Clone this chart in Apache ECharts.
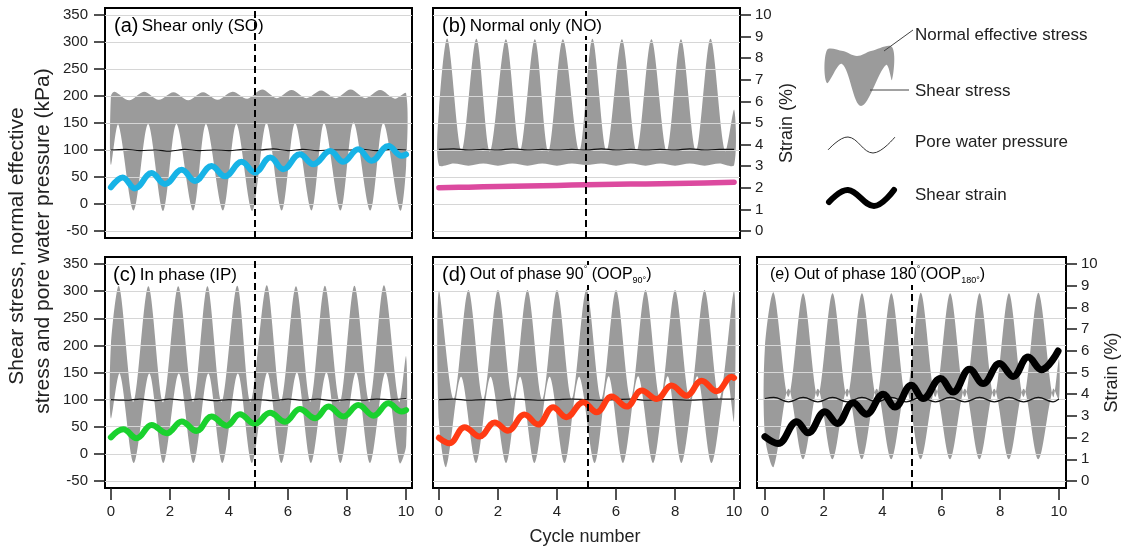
<!DOCTYPE html>
<html><head><meta charset="utf-8">
<script src="https://cdn.jsdelivr.net/npm/echarts@6/dist/echarts.min.js"></script>
<style>html,body{margin:0;padding:0;background:#fff}#c{width:1130px;height:552px}</style>
</head><body><div id="c"></div>
<script>
// ---------- tick labels ----------
const kpaTicks = [-50, 0, 50, 100, 150, 200, 250, 300, 350];
const strainTicks = [0, 1, 2, 3, 4, 5, 6, 7, 8, 9, 10];
const cycleTicks = [0, 2, 4, 6, 8, 10];
const halfSteps = [0, 0.5, 1, 1.5, 2, 2.5, 3, 3.5, 4, 4.5, 5, 5.5, 6, 6.5, 7, 7.5, 8, 8.5, 9, 9.5, 10];
const dashX = [4.88, 4.98, 4.88, 5.05, 5.0];

// ---------- (a) Shear only ----------
const normA_x = [0, 0.12, 0.62, 1.12, 1.62, 2.12, 2.62, 3.12, 3.62, 4.12, 4.62, 5.12, 5.62, 6.12, 6.62, 7.12, 7.62, 8.12, 8.62, 9.12, 9.62, 10];
const normA_y = [199, 208, 192, 208, 193, 207, 192, 207, 193, 208, 195, 212, 196, 211, 196, 210, 196, 212, 196, 211, 195, 205];
const shearA_x = [0, 0.25, 0.77, 1.26, 1.77, 2.22, 2.79, 3.22, 3.8, 4.25, 4.79, 5.27, 5.79, 6.24, 6.8, 7.22, 7.78, 8.22, 8.79, 9.23, 9.8, 10];
const shearA_y = [72, 147, -12, 148, -13, 148, -12, 148, -12, 148, -13, 150, -12, 150, -12, 150, -12, 151, -12, 150, -12, 70];
const poreA_y = [100, 101, 99, 100, 98, 101, 99, 100, 99, 101, 100, 102, 99, 101, 99, 100, 100, 101, 99, 101, 100];
const strainA_x = [0, 0.4, 0.81, 1.38, 1.83, 2.4, 2.85, 3.41, 3.86, 4.43, 4.88, 5.4, 5.84, 6.4, 6.86, 7.43, 7.87, 8.38, 8.83, 9.4, 9.85, 10];
const strainA_y = [2.02, 2.48, 1.97, 2.68, 2.17, 2.83, 2.32, 3.01, 2.53, 3.2, 2.71, 3.4, 2.86, 3.55, 3.09, 3.7, 3.2, 3.78, 3.25, 3.93, 3.48, 3.55];

// ---------- (b) Normal only ----------
const normB_x = [0, 0.29, 0.77, 1.27, 1.73, 2.27, 2.75, 3.25, 3.71, 4.2, 4.76, 5.2, 5.68, 6.2, 6.7, 7.2, 7.72, 8.2, 8.71, 9.2, 9.69, 10];
const normB_y = [172, 306, 98, 306, 97, 305, 98, 305, 97, 305, 98, 306, 98, 305, 98, 305, 98, 305, 98, 306, 98, 175];
const shearB_y = [72, 75, 71, 75, 71, 75, 71, 75, 71, 75, 72, 75, 71, 75, 71, 75, 71, 75, 71, 75, 72];
const poreB_y = [101, 102, 100, 101, 100, 102, 100, 101, 100, 101, 100, 102, 100, 101, 100, 101, 100, 102, 100, 101, 101];
const strainB_x = [0, 1, 2, 3, 4, 5, 6, 7, 8, 9, 10];
const strainB_y = [2.0, 2.03, 2.06, 2.08, 2.11, 2.14, 2.16, 2.18, 2.2, 2.22, 2.26];

// ---------- (c) In phase ----------
const normC_x = [0, 0.28, 0.76, 1.27, 1.77, 2.28, 2.79, 3.27, 3.75, 4.28, 4.73, 5.28, 5.76, 6.27, 6.76, 7.25, 7.76, 8.25, 8.76, 9.25, 9.76, 10];
const normC_y = [200, 309, 96, 309, 95, 309, 96, 309, 96, 310, 96, 311, 97, 309, 96, 310, 96, 310, 96, 311, 96, 180];
const shearC_x = [0, 0.3, 0.78, 1.3, 1.78, 2.3, 2.8, 3.3, 3.78, 4.3, 4.78, 5.3, 5.78, 6.3, 6.78, 7.3, 7.78, 8.3, 8.78, 9.3, 9.78, 10];
const shearC_y = [65, 148, -17, 148, -17, 148, -17, 148, -17, 148, -17, 150, -17, 150, -17, 150, -17, 150, -17, 150, -17, 15];
const poreC_y = [100, 99, 101, 98, 101, 99, 101, 98, 100, 99, 100, 98, 101, 99, 101, 98, 100, 99, 101, 100, 102];
const strainC_x = [0, 0.42, 0.87, 1.38, 1.89, 2.4, 2.9, 3.41, 3.92, 4.37, 4.88, 5.39, 5.9, 6.4, 6.92, 7.37, 7.88, 8.38, 8.9, 9.4, 9.85, 10];
const strainC_y = [2.01, 2.38, 1.97, 2.58, 2.2, 2.74, 2.3, 2.97, 2.55, 3.07, 2.63, 3.14, 2.73, 3.32, 2.89, 3.43, 2.97, 3.5, 3.01, 3.58, 3.2, 3.27];

// ---------- (d) Out of phase 90 ----------
const normD_y = [300, 101, 302, 100, 302, 101, 302, 100, 302, 101, 303, 100, 302, 101, 302, 100, 302, 101, 302, 100, 300];
const shearD_x = [0, 0.25, 0.75, 1.26, 1.75, 2.28, 2.75, 3.24, 3.75, 4.26, 4.75, 5.28, 5.75, 6.24, 6.75, 7.26, 7.75, 8.22, 8.75, 9.24, 9.75, 10];
const shearD_y = [60, -24, 142, -17, 142, -17, 142, -17, 142, -17, 142, -17, 143, -17, 143, -17, 143, -17, 143, -17, 142, 60];
const poreD_y = [100, 101, 99, 100, 99, 101, 100, 99, 100, 101, 100, 99, 100, 101, 99, 100, 100, 99, 100, 101, 101];
const strainD_x = [0, 0.36, 0.87, 1.38, 1.89, 2.34, 2.9, 3.36, 3.87, 4.32, 4.89, 5.34, 5.85, 6.36, 6.87, 7.38, 7.88, 8.39, 8.9, 9.41, 9.92, 10];
const strainD_y = [1.99, 1.74, 2.48, 2.05, 2.7, 2.32, 3.06, 2.6, 3.4, 2.94, 3.63, 3.17, 3.89, 3.43, 4.17, 3.78, 4.4, 3.93, 4.62, 4.13, 4.8, 4.75];

// ---------- (e) Out of phase 180 ----------
const normE_x = [0, 0.3, 0.8, 1.3, 1.8, 2.3, 2.8, 3.3, 3.8, 4.3, 4.8, 5.3, 5.8, 6.3, 6.8, 7.3, 7.8, 8.3, 8.8, 9.3, 9.8, 10];
const normE_y = [197, 297, 105, 296, 105, 296, 105, 296, 105, 296, 105, 297, 105, 296, 105, 296, 105, 296, 105, 297, 105, 175];
const shearE_y = [32, -24, 120, -10, 120, -10, 120, -10, 120, -10, 120, -10, 120, -10, 120, -10, 120, -10, 120, -10, 120, 100];
const poreE_y = [102, 104, 96, 104, 96, 104, 96, 104, 96, 104, 96, 104, 96, 104, 96, 104, 96, 104, 96, 104, 96, 101];
const strainE_x = [0, 0.45, 1.08, 1.47, 2.04, 2.46, 3.0, 3.45, 4.02, 4.42, 4.98, 5.38, 5.97, 6.4, 6.96, 7.42, 7.98, 8.44, 8.95, 9.4, 9.97];
const strainE_y = [2.04, 1.73, 2.73, 2.22, 3.19, 2.65, 3.6, 3.08, 4.0, 3.41, 4.41, 3.8, 4.72, 4.1, 5.15, 4.49, 5.41, 4.82, 5.71, 5.13, 5.99];

// ---------- layout ----------
const FONT = "'Liberation Sans', Arial, Helvetica, sans-serif";
const TXT = '#222';
const GRAY = '#9b9b9b';
const panels = [
  {g: {left: 105, top: 8, width: 307, height: 230}, xr: [-0.2, 10.2], nx: normA_x, ny: normA_y, sx: shearA_x, sy: shearA_y, px: halfSteps, py: poreA_y, ex: strainA_x, ey: strainA_y, col: '#17b3e6', w: 6, L: true, R: false, B: false, gap: 38},
  {g: {left: 433, top: 8, width: 307, height: 230}, xr: [-0.2, 10.2], nx: normB_x, ny: normB_y, sx: halfSteps, sy: shearB_y, px: halfSteps, py: poreB_y, ex: strainB_x, ey: strainB_y, col: '#dc4a9f', w: 5.5, L: false, R: true, B: false, gap: 38},
  {g: {left: 105, top: 257, width: 307, height: 231}, xr: [-0.2, 10.2], nx: normC_x, ny: normC_y, sx: shearC_x, sy: shearC_y, px: halfSteps, py: poreC_y, ex: strainC_x, ey: strainC_y, col: '#1ad12e', w: 6, L: true, R: false, B: true, gap: 38},
  {g: {left: 433, top: 257, width: 307, height: 231}, xr: [-0.2, 10.2], nx: halfSteps, ny: normD_y, sx: shearD_x, sy: shearD_y, px: halfSteps, py: poreD_y, ex: strainD_x, ey: strainD_y, col: '#ff3b14', w: 6, L: false, R: false, B: true, gap: 38},
  {g: {left: 757, top: 257, width: 309, height: 231}, xr: [-0.27, 10.24], nx: normE_x, ny: normE_y, sx: normE_x, sy: shearE_y, px: normE_x, py: poreE_y, ex: strainE_x, ey: strainE_y, col: '#000', w: 7, L: false, R: true, B: true, gap: 37}
];
// strain axis mirrors kPa axis: kPa = -50 + 40*strain
const KMIN = -63, KMAX = 363;
const SMIN = (KMIN + 50) / 40, SMAX = (KMAX + 50) / 40;

function zip(xs, ys) { return xs.map((x, i) => [x, ys[i]]); }
function band(ux, uy, lx, ly) {
  return function (params, api) {
    const pts = [];
    for (let i = 0; i < ux.length; i++) pts.push(api.coord([ux[i], uy[i]]));
    for (let i = lx.length - 1; i >= 0; i--) pts.push(api.coord([lx[i], ly[i]]));
    return {type: 'polygon', shape: {points: pts, smooth: 0.3}, style: {fill: GRAY}};
  };
}

function tick(show, vals, len) {
  return {show: show, customValues: vals, length: len, lineStyle: {color: '#1a1a1a', width: 1.5}};
}
const grid = [], xAxis = [], yAxis = [], series = [];
panels.forEach((p, i) => {
  grid.push(Object.assign({show: true, borderColor: '#000', borderWidth: 2, backgroundColor: 'transparent'}, p.g));
  xAxis.push({
    type: 'value', gridIndex: i, min: p.xr[0], max: p.xr[1], position: 'bottom',
    axisLine: {show: false, onZero: false},
    axisTick: tick(p.B, cycleTicks, 12),
    axisLabel: {show: p.B, customValues: cycleTicks, margin: 16, fontSize: 15, color: TXT, fontFamily: FONT},
    splitLine: {show: false}
  });
  yAxis.push({
    type: 'value', gridIndex: i, min: KMIN, max: KMAX, position: 'left', z: 2,
    axisLine: {show: false, onZero: false},
    axisTick: tick(p.L, kpaTicks, 11),
    axisLabel: {show: p.L, customValues: kpaTicks, margin: 17, fontSize: 15, color: TXT, fontFamily: FONT},
    splitLine: {show: true, lineStyle: {color: '#d6d6d6', width: 1}}
  });
  yAxis.push({
    type: 'value', gridIndex: i, min: SMIN, max: SMAX, position: 'right',
    axisLine: {show: false, onZero: false},
    axisTick: tick(p.R, strainTicks, 11),
    axisLabel: {show: p.R, customValues: strainTicks, margin: 15, fontSize: 15, color: TXT, fontFamily: FONT},
    splitLine: {show: false},
    name: p.R ? 'Strain (%)' : '', nameLocation: 'middle', nameGap: p.gap, nameRotate: 90,
    nameTextStyle: {fontSize: 18, color: TXT, fontFamily: FONT}
  });
  series.push({
    type: 'custom', xAxisIndex: i, yAxisIndex: 2 * i, z: 1, silent: true,
    renderItem: band(p.nx, p.ny, p.sx, p.sy), data: [[0, 0]]
  });
  series.push({
    type: 'line', xAxisIndex: i, yAxisIndex: 2 * i, z: 3, symbol: 'none', smooth: 0.4, silent: true,
    data: zip(p.px, p.py), lineStyle: {color: '#111', width: 1.2},
    markLine: {silent: true, symbol: 'none', label: {show: false},
      lineStyle: {color: '#000', width: 2, type: [7, 4]}, data: [{xAxis: dashX[i]}]}
  });
  series.push({
    type: 'line', xAxisIndex: i, yAxisIndex: 2 * i + 1, z: 4, symbol: 'none', smooth: 0.4, silent: true,
    data: zip(p.ex, p.ey), lineStyle: {color: p.col, width: p.w, cap: 'round', join: 'round'}
  });
});

const titleRich = {
  b: {fontSize: 20, fontFamily: FONT, color: TXT, lineHeight: 20},
  n: {fontSize: 17, fontFamily: FONT, color: TXT, lineHeight: 20},
  m: {fontSize: 16, fontFamily: FONT, color: TXT, lineHeight: 20},
  sup: {fontSize: 9, fontFamily: FONT, color: TXT, lineHeight: 10, verticalAlign: 'top'},
  sub: {fontSize: 9, fontFamily: FONT, color: TXT, lineHeight: 10, verticalAlign: 'bottom'}
};
function ttl(x, y, text, bg) {
  const st = {text: text, rich: titleRich, verticalAlign: 'middle', align: 'left'};
  if (bg) { st.backgroundColor = '#fff'; st.padding = [0, 2, 0, 2]; }
  return {type: 'text', x: x, y: y, z: 10, style: st};
}
function txt(x, y, text, size, extra) {
  return Object.assign({type: 'text', x: x, y: y, z: 10,
    style: {text: text, fontSize: size, fontFamily: FONT, fill: TXT, verticalAlign: 'middle', align: 'left'}}, extra || {});
}

const graphic = [
  ttl(114, 26, '{b|(a)} {n|Shear only (SO)}', false),
  ttl(440, 26, '{b|(b)} {n|Normal only (NO)}', true),
  ttl(113, 275, '{b|(c)} {n|In phase (IP)}', false),
  ttl(440, 275, '{b|(d)} {m|Out of phase 90}{sup|°}{m| (OOP}{sub|90°}{m|)}', true),
  ttl(768, 275, '{m|(e) Out of phase 180}{sup|°}{m|(OOP}{sub|180°}{m|)}', true),
  // left axis title (two lines)
  {type: 'text', x: 17, y: 246, rotation: Math.PI / 2, z: 10,
    style: {text: 'Shear stress, normal effective', fontSize: 21, fontFamily: FONT, fill: TXT, align: 'center', verticalAlign: 'middle'}},
  {type: 'text', x: 43, y: 241, rotation: Math.PI / 2, z: 10,
    style: {text: 'stress and pore water pressure (kPa)', fontSize: 21, fontFamily: FONT, fill: TXT, align: 'center', verticalAlign: 'middle'}},
  // x axis title
  {type: 'text', x: 585, y: 537, z: 10,
    style: {text: 'Cycle number', fontSize: 18, fontFamily: FONT, fill: TXT, align: 'center', verticalAlign: 'middle'}},
  // legend
  {type: 'polygon', z: 10, shape: {smooth: 0.35, points: [[827, 50], [843, 51], [857, 56], [871, 51], [892, 47], [892, 80], [886, 65], [861, 106], [842, 64], [827, 83]]}, style: {fill: GRAY}},
  {type: 'line', z: 10, shape: {x1: 884, y1: 51, x2: 913, y2: 30}, style: {stroke: '#444', lineWidth: 1}},
  {type: 'line', z: 10, shape: {x1: 870, y1: 90, x2: 909, y2: 90}, style: {stroke: '#444', lineWidth: 1}},
  {type: 'polyline', z: 10, shape: {smooth: 0.4, points: [[828, 150], [848, 137], [873, 153], [895, 137]]}, style: {stroke: '#333', lineWidth: 1, fill: null}},
  {type: 'polyline', z: 10, shape: {smooth: 0.4, points: [[829, 202], [848, 190], [874, 206], [894, 190]]}, style: {stroke: '#000', lineWidth: 6, lineCap: 'round', fill: null}},
  txt(915, 35, 'Normal effective stress', 17),
  txt(915, 91, 'Shear stress', 17),
  txt(915, 142, 'Pore water pressure', 17),
  txt(915, 195, 'Shear strain', 17)
];

const chart = echarts.init(document.getElementById('c'), null, {renderer: 'canvas'});
chart.setOption({animation: false, backgroundColor: '#fff', grid, xAxis, yAxis, series, graphic});
</script></body></html>
